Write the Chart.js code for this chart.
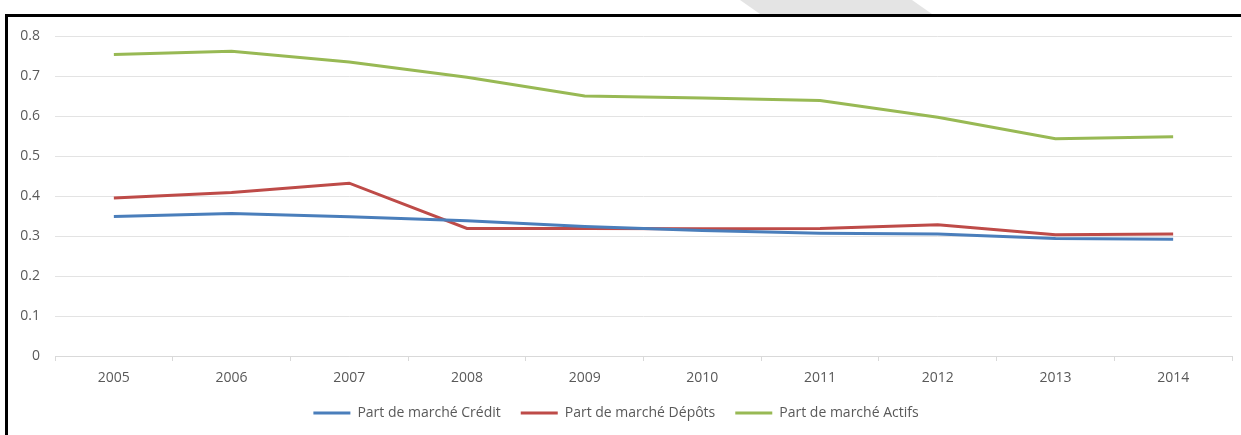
<!DOCTYPE html>
<html>
<head>
<meta charset="utf-8">
<script src="https://cdn.jsdelivr.net/npm/chart.js@4"></script>
<style>
    html, body { margin: 0; padding: 0; background: #fff; }
    .wrap { position: relative; width: 1241px; height: 435px; overflow: hidden; }
    .frame { position: absolute; left: 5px; top: 14px; right: -10px; bottom: -10px;
             border-top: 3px solid #000; border-left: 3px solid #000; }
    .mark { position: absolute; left: 740px; top: 0; width: 192px; height: 14px; background: #e4e4e4;
            clip-path: polygon(0 0, 172px 0, 192px 14px, 20px 14px); }
    canvas { position: absolute; left: 0; top: 0; }
</style>
</head>
<body>
<div class="wrap">
    <canvas id="chart" width="1241" height="435"></canvas>
    <div class="frame"></div>
    <div class="mark"></div>
</div>
<script>
    // données
    const years = ['2005', '2006', '2007', '2008', '2009', '2010', '2011', '2012', '2013', '2014'];
    const partCredit = [0.349, 0.356, 0.348, 0.338, 0.324, 0.314, 0.307, 0.305, 0.294, 0.292];
    const partDepots = [0.395, 0.409, 0.432, 0.319, 0.319, 0.318, 0.319, 0.328, 0.303, 0.305];
    const partActifs = [0.754, 0.762, 0.735, 0.697, 0.650, 0.645, 0.639, 0.597, 0.543, 0.548];
    const yTicks = ['0', '0.1', '0.2', '0.3', '0.4', '0.5', '0.6', '0.7', '0.8'];

    const txt = '#595959';
    const font = "'Open Sans', sans-serif";

    function serie(label, data, color) {
        return {
            label: label,
            data: data,
            borderColor: color,
            backgroundColor: color,
            borderWidth: 3,
            pointRadius: 0,
            pointStyle: 'line',
            tension: 0
        };
    }

    new Chart(document.getElementById('chart'), {
        type: 'line',
        data: {
            labels: years,
            datasets: [
                serie('Part de marché Crédit', partCredit, '#4a7ebb'),
                serie('Part de marché Dépôts', partDepots, '#be4b48'),
                serie('Part de marché Actifs', partActifs, '#98b954')
            ]
        },
        options: {
            responsive: false,
            animation: false,
            layout: {
                padding: { top: 36, right: 9, left: 0, bottom: 5 }
            },
            plugins: {
                tooltip: { enabled: false },
                legend: {
                    position: 'bottom',
                    labels: {
                        usePointStyle: true,
                        pointStyle: 'line',
                        pointStyleWidth: 37,
                        boxHeight: 14,
                        padding: 20,
                        color: txt,
                        font: { family: font, size: 14 }
                    }
                }
            },
            scales: {
                x: {
                    offset: true,
                    grid: {
                        offset: true,
                        drawOnChartArea: false,
                        drawTicks: true,
                        tickLength: 5,
                        color: '#d9d9d9'
                    },
                    border: { color: '#d9d9d9', width: 1 },
                    ticks: {
                        color: txt,
                        padding: 9,
                        maxRotation: 0,
                        font: { family: font, size: 14 }
                    },
                    afterFit: function (scale) { scale.height = 30; }
                },
                y: {
                    min: 0,
                    max: 0.8,
                    grid: {
                        color: '#e3e3e3',
                        drawTicks: false
                    },
                    border: { display: false },
                    ticks: {
                        stepSize: 0.1,
                        color: txt,
                        padding: 15,
                        font: { family: font, size: 14 },
                        callback: function (value, index) { return yTicks[index]; }
                    },
                    afterFit: function (scale) { scale.width = 55; }
                }
            }
        }
    });
</script>
</body>
</html>
